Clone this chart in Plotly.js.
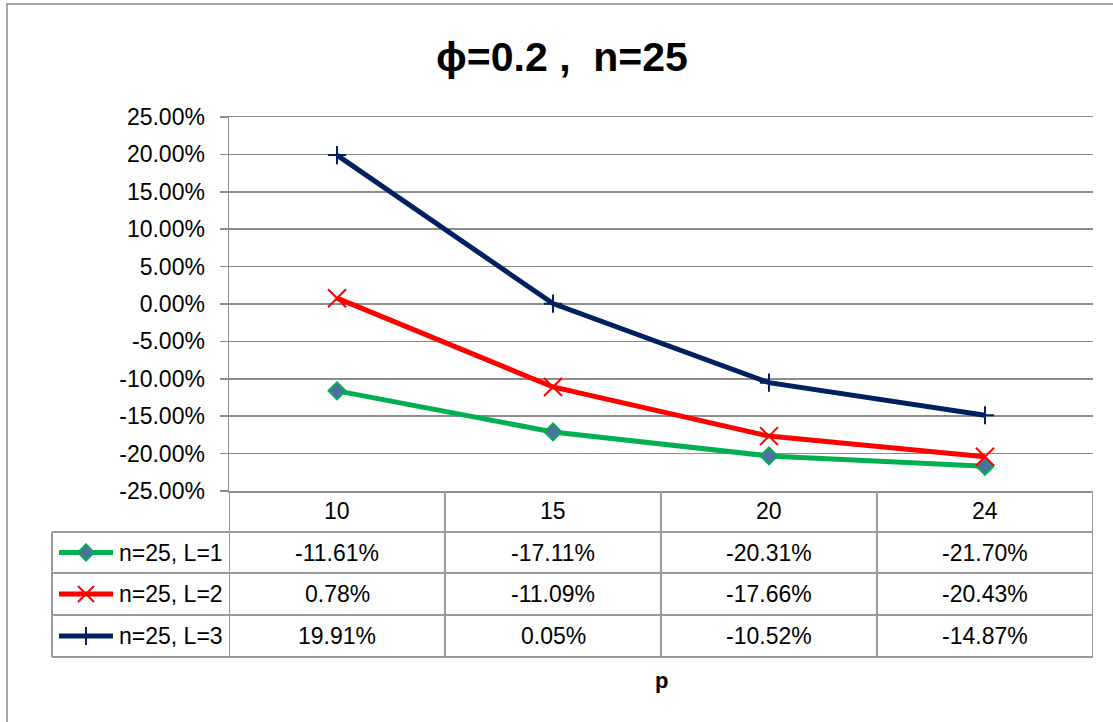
<!DOCTYPE html>
<html>
<head>
<meta charset="utf-8">
<script src="https://cdn.plot.ly/plotly-3.0.1.min.js"></script>
<style>html,body{margin:0;padding:0;background:#fff;}#chart{width:1113px;height:722px;}</style>
</head>
<body>
<div id="chart"></div>
<script>
// ---- data ----
const categories = ["10", "15", "20", "24"];
const seriesNames = ["n=25, L=1", "n=25, L=2", "n=25, L=3"];
const valuesL1 = [-0.1161, -0.1711, -0.2031, -0.2170];
const valuesL2 = [0.0078, -0.1109, -0.1766, -0.2043];
const valuesL3 = [0.1991, 0.0005, -0.1052, -0.1487];
const yTickVals = [-0.25, -0.20, -0.15, -0.10, -0.05, 0, 0.05, 0.10, 0.15, 0.20, 0.25];
const yTickLabels = ["-25.00%", "-20.00%", "-15.00%", "-10.00%", "-5.00%", "0.00%", "5.00%", "10.00%", "15.00%", "20.00%", "25.00%"];
const titleText = "\u03d5=0.2\u00a0,\u00a0\u00a0n=25";
const xTitle = "p";

// ---- styles ----
const colors = ["#00b050", "#ff0000", "#002060"];
const FONT = "'Liberation Sans', Arial, sans-serif";
const GRID = "#8c8c8c";
const TABLE = "#9a9a9a";

// layout geometry (pixels)
const W = 1113, H = 722;
const L = 229, R = 1093, T = 117, B = 491;
const pw = R - L, ph = B - T;
const px = x => (x - L) / pw;
const py = y => (B - y) / ph;

const allSeries = [valuesL1, valuesL2, valuesL3];
const markers = [
  {symbol: "diamond", size: 13, color: "#4f6fa3", line: {color: colors[0], width: 2}},
  {symbol: "x-thin", size: 18, color: colors[1], line: {color: colors[1], width: 2}},
  {symbol: "cross-thin", size: 13, color: colors[2], line: {color: colors[2], width: 2}}
];

const traces = allSeries.map((vals, i) => ({
  type: "scatter", mode: "lines+markers",
  x: categories, y: vals, name: seriesNames[i],
  line: {color: colors[i], width: 5},
  marker: markers[i],
  showlegend: false, cliponaxis: false
}));

// table geometry
const rowLines = [491, 532, 573, 615, 657];
const legendLeft = 52;
const shapes = [];
const annotations = [];

// chart outer border
shapes.push({type: "rect", xref: "paper", yref: "paper", x0: px(7), x1: px(1125), y0: py(4), y1: py(735),
  line: {color: "#8a8a8a", width: 1.5}, layer: "below"});

// vertical column lines
for (let k = 0; k <= categories.length; k++) {
  shapes.push({type: "line", xref: "x", yref: "paper", x0: k - 0.5, x1: k - 0.5, y0: 0, y1: py(rowLines[4]),
    line: {color: TABLE, width: 2}});
}
// legend column left border
shapes.push({type: "line", xref: "paper", yref: "paper", x0: px(legendLeft), x1: px(legendLeft), y0: py(rowLines[1]), y1: py(rowLines[4]),
  line: {color: TABLE, width: 2}});
// horizontal row lines
for (let r = 1; r < rowLines.length; r++) {
  shapes.push({type: "line", xref: "paper", yref: "paper", x0: px(legendLeft), x1: 1, y0: py(rowLines[r]), y1: py(rowLines[r]),
    line: {color: TABLE, width: 2}});
}

const cellFont = {family: FONT, size: 23, color: "#000"};
// header row: categories
categories.forEach((c, j) => {
  annotations.push({xref: "x", yref: "paper", x: j, y: py((rowLines[0] + rowLines[1]) / 2),
    text: c, showarrow: false, font: cellFont, xanchor: "center", yanchor: "middle"});
});
// value rows
const fmt = v => (v * 100).toFixed(2) + "%";
allSeries.forEach((vals, i) => {
  const ycp = (rowLines[i + 1] + rowLines[i + 2]) / 2;
  const yc = py(ycp);
  vals.forEach((v, j) => {
    annotations.push({xref: "x", yref: "paper", x: j, y: yc, text: fmt(v), showarrow: false,
      font: cellFont, xanchor: "center", yanchor: "middle"});
  });
  // legend name
  annotations.push({xref: "paper", yref: "paper", x: px(117), y: yc, text: seriesNames[i], showarrow: false,
    font: cellFont, xanchor: "left", yanchor: "middle"});
  // legend key line
  shapes.push({type: "line", xref: "paper", yref: "paper", x0: px(59), x1: px(113), y0: yc, y1: yc,
    line: {color: colors[i], width: 5}});
  const cx = 86, s = 8;
  if (i === 0) {
    shapes.push({type: "path", xref: "paper", yref: "paper",
      path: `M${px(cx - s)},${py(ycp)} L${px(cx)},${py(ycp - s)} L${px(cx + s)},${py(ycp)} L${px(cx)},${py(ycp + s)} Z`,
      fillcolor: markers[0].color, line: {color: colors[0], width: 2}});
  } else if (i === 1) {
    shapes.push({type: "line", xref: "paper", yref: "paper", x0: px(cx - s), x1: px(cx + s), y0: py(ycp - s), y1: py(ycp + s), line: {color: colors[1], width: 2}});
    shapes.push({type: "line", xref: "paper", yref: "paper", x0: px(cx - s), x1: px(cx + s), y0: py(ycp + s), y1: py(ycp - s), line: {color: colors[1], width: 2}});
  } else {
    shapes.push({type: "line", xref: "paper", yref: "paper", x0: px(cx), x1: px(cx), y0: py(ycp - s - 1), y1: py(ycp + s + 1), line: {color: colors[2], width: 2}});
  }
});

// axis title "p"
annotations.push({xref: "paper", yref: "paper", x: 0.5, y: py(680), text: "<b>" + xTitle + "</b>", showarrow: false,
  font: {family: FONT, size: 22, color: "#000"}, xanchor: "center", yanchor: "middle"});

const layout = {
  width: W, height: H,
  margin: {l: L, r: W - R, t: T, b: H - B, pad: 0},
  paper_bgcolor: "#fff", plot_bgcolor: "#fff",
  title: {text: "<b>" + titleText + "</b>", x: 562 / W, xref: "container", xanchor: "center",
    y: 1 - 57 / H, yref: "container", yanchor: "middle",
    font: {family: FONT, size: 41, color: "#000"}},
  xaxis: {type: "category", range: [-0.5, 3.5], showticklabels: false, ticks: "", showgrid: false,
    zeroline: false, showline: true, mirror: true, linecolor: GRID, linewidth: 1.5, fixedrange: true},
  yaxis: {range: [-0.25, 0.25], tickmode: "array", tickvals: yTickVals, ticktext: yTickLabels,
    showgrid: true, gridcolor: GRID, gridwidth: 1.5,
    zeroline: false, showline: true, linecolor: GRID, linewidth: 1.5, ticks: "outside", ticklen: 8, tickcolor: GRID, tickwidth: 1.5,
    tickfont: {family: FONT, size: 23, color: "#000"}, ticklabelstandoff: 10, fixedrange: true},
  shapes: shapes,
  annotations: annotations,
  showlegend: false
};

Plotly.newPlot("chart", traces, layout, {displayModeBar: false, staticPlot: true});
</script>
</body>
</html>
